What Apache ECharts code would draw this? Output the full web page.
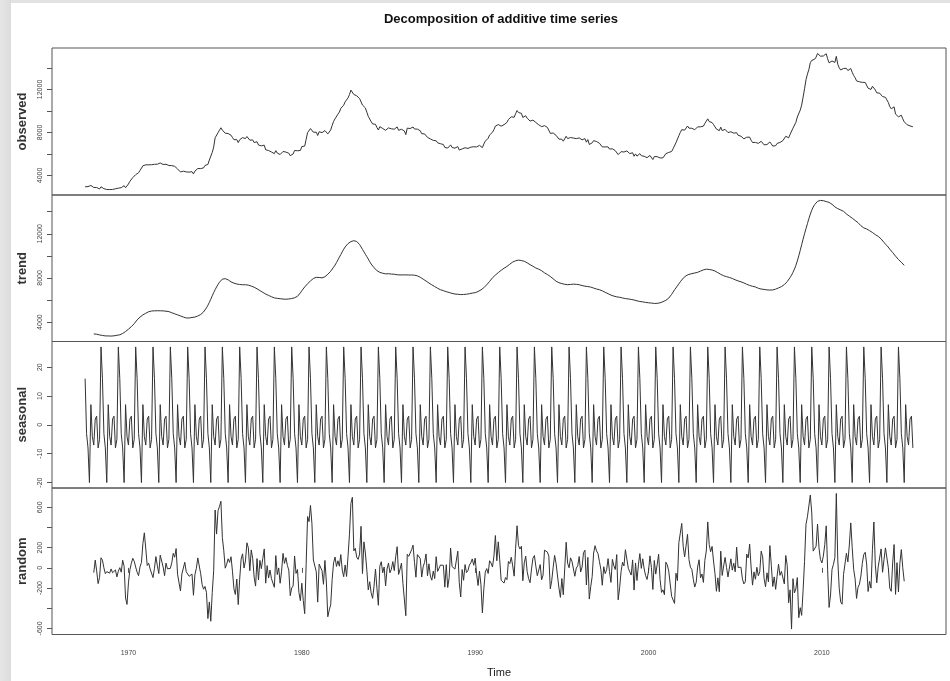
<!DOCTYPE html>
<html>
<head>
<meta charset="utf-8">
<script src="https://cdn.jsdelivr.net/npm/echarts@6/dist/echarts.min.js"></script>
<style>
html,body{margin:0;padding:0;background:#fff;}
#main{width:950px;height:681px;}
</style>
</head>
<body>
<div id="main"></div>
<script>
// monthly series, starts July 1967
var startYear = 1967;
var startMonth = 7;

// observed values, one row per year
var observed = [
  2944, 2945, 2958, 3143, 3066, 3018,
  2878, 3001, 2877, 2709, 2740, 2938, 2883, 2768, 2686, 2689, 2715, 2685,
  2718, 2692, 2712, 2758, 2713, 2816, 2868, 2856, 3040, 3049, 2856, 2884,
  3201, 3453, 3635, 3797, 3919, 4071, 4175, 4256, 4456, 4591, 4898, 5076,
  4986, 4903, 4987, 4959, 4996, 4949, 5035, 5134, 5042, 4954, 5161, 5154,
  5019, 4928, 5038, 4959, 4922, 4923, 4913, 4939, 4849, 4875, 4602, 4543,
  4326, 4452, 4394, 4459, 4329, 4363, 4305, 4305, 4350, 4144, 4396, 4489,
  4644, 4731, 4634, 4618, 4705, 4927, 5063, 5022, 5437, 5523, 6140, 6636,
  7501, 7520, 7978, 8210, 8433, 8220, 8127, 7928, 7923, 7897, 7794, 7744,
  7534, 7326, 7230, 7330, 7053, 7322, 7490, 7518, 7380, 7430, 7620, 7545,
  7280, 7443, 7307, 7059, 6911, 7134, 6829, 6925, 6751, 6763, 6815, 6386,
  6489, 6318, 6337, 6180, 6127, 6028, 6309, 6080, 6125, 5947, 6077, 6228,
  6109, 6173, 6109, 6069, 5840, 5959, 5996, 6320, 6190, 6296, 6238, 6325,
  6683, 6702, 6729, 7358, 7984, 8098, 8363, 8281, 8021, 8088, 8023, 7718,
  8071, 8051, 7982, 7869, 8174, 8098, 7863, 8036, 8230, 8646, 9029, 9267,
  9397, 9705, 9895, 10244, 10335, 10538, 10849, 10881, 11217, 11529, 11938, 12051,
  11534, 11545, 11408, 11268, 11154, 11246, 10548, 10623, 10282, 9887, 9499, 9331,
  9008, 8791, 8746, 8762, 8456, 8226, 8537, 8519, 8367, 8381, 8198, 8358,
  8423, 8321, 8339, 8395, 8302, 8460, 8513, 8196, 8248, 8298, 8128, 8138,
  7795, 8402, 8383, 8364, 8439, 8508, 8319, 8135, 8310, 8243, 8159, 7883,
  7892, 7865, 7862, 7542, 7574, 7398, 7268, 7261, 7102, 7227, 7035, 6936,
  6953, 6929, 6876, 6601, 6779, 6546, 6605, 6843, 6604, 6568, 6537, 6518,
  6682, 6359, 6205, 6468, 6375, 6577, 6495, 6511, 6590, 6630, 6725, 6667,
  6752, 6651, 6598, 6797, 6742, 6590, 6922, 7188, 7368, 7459, 7764, 7901,
  8015, 8265, 8586, 8439, 8736, 8692, 8586, 8666, 8722, 8842, 8931, 9198,
  9283, 9454, 9460, 9415, 9744, 10040, 9850, 9787, 9781, 9398, 9565, 9557,
  9325, 9183, 9056, 9110, 9149, 9121, 8930, 8763, 8714, 8750, 8542, 8477,
  8630, 8583, 8470, 8331, 7915, 7927, 7946, 7933, 7734, 7632, 7375, 7230,
  7375, 7187, 7153, 7645, 7430, 7427, 7527, 7484, 7478, 7328, 7426, 7423,
  7491, 7313, 7318, 7415, 7423, 7095, 7337, 6882, 6979, 7031, 7236, 7253,
  7158, 7102, 7000, 6873, 6655, 6799, 6655, 6608, 6656, 6454, 6308, 6476,
  6368, 6306, 6422, 5941, 6047, 6212, 6259, 6179, 6300, 6280, 6100, 6032,
  5976, 6111, 5783, 6004, 5796, 5951, 6025, 5838, 5915, 5778, 5716, 5653,
  5708, 5858, 5733, 5481, 5758, 5651, 5747, 5853, 5625, 5534, 5639, 5634,
  6023, 6089, 6141, 6271, 6226, 6484, 6583, 7042, 7142, 7694, 8003, 8258,
  8182, 8215, 8304, 8599, 8399, 8393, 8390, 8304, 8251, 8307, 8520, 8640,
  8520, 8618, 8588, 8842, 8957, 9266, 9011, 8896, 8921, 8732, 8576, 8317,
  8370, 8167, 8491, 8170, 8212, 8286, 8136, 7990, 7927, 8061, 7932, 7934,
  7784, 7980, 7737, 7672, 7651, 7524, 7406, 7345, 7553, 7453, 7566, 7279,
  7064, 7184, 7072, 7120, 6980, 7001, 7175, 7091, 6847, 6727, 6872, 6762,
  7116, 6927, 6731, 6850, 6766, 6979, 7149, 7067, 7170, 7237, 7240, 7645,
  7685, 7497, 7822, 7637, 8395, 8575, 8937, 9438, 9494, 10074, 10538, 11286,
  12058, 12898, 13426, 13853, 14499, 14707, 14601, 14814, 15009, 15352, 15219, 15098,
  15046, 15113, 15202, 15325, 14849, 14474, 14512, 14648, 14579, 14516, 15081, 14348,
  14013, 13820, 13737, 13957, 13855, 13962, 13763, 13818, 13948, 13594, 13302, 13093,
  12797, 12813, 12713, 12646, 12660, 12692, 12656, 12471, 12115, 12124, 12005, 12298,
  12471, 11950, 11689, 11760, 11654, 11751, 11335, 11279, 11270, 11136, 10787, 10404,
  10202, 10349, 10380, 9702, 9859, 9460, 9608, 9599, 9262, 8990, 9090, 8717,
  8903, 8610, 8504, 8526
];

// seasonal figure, Jan..Dec
var seasonalFigure = [-7, 2, 3, -8, -5, 27, 16, -3, -8, -20, 7, -4];

var panelNames = ['observed', 'trend', 'seasonal', 'random'];
var xTicks = [1970, 1980, 1990, 2000, 2010];
var levelTicks = [4000, 6000, 8000, 10000, 12000, 14000];
var levelLabels = [4000, 8000, 12000];
var seasonalTicks = [-20, -10, 0, 10, 20];
var randomTicks = [-600, -400, -200, 0, 200, 400, 600];
var randomLabels = [-600, -200, 0, 200, 600];

// decompose: centred 2x12 moving average, then remainder
var n = observed.length;
var trend = [], seasonal = [], random = [], times = [];
for (var i = 0; i < n; i++) {
  times.push(startYear + (startMonth - 1) / 12 + i / 12);
  seasonal.push(seasonalFigure[(startMonth - 1 + i) % 12]);
  if (i < 6 || i > n - 7) {
    trend.push(null);
  } else {
    var s = 0.5 * observed[i - 6] + 0.5 * observed[i + 6];
    for (var k = -5; k <= 5; k++) s += observed[i + k];
    trend.push(s / 12);
  }
  random.push(trend[i] == null ? null : observed[i] - trend[i] - seasonal[i]);
}
var panels = [observed, trend, seasonal, random];

// R style range: data range stretched 4% each side
function rRange(arr) {
  var lo = Infinity, hi = -Infinity;
  arr.forEach(function (v) { if (v != null) { lo = Math.min(lo, v); hi = Math.max(hi, v); } });
  var d = (hi - lo) * 0.04;
  return [lo - d, hi + d];
}
var xr = rRange(times);
function plain(v) { return String(v); }

var font = 'Liberation Sans';
var tops = [48, 195, 341.5, 488];
var heights = [147, 146.5, 146.5, 146.5];
var ticksFor = [levelTicks, levelTicks, seasonalTicks, randomTicks];
var labelsFor = [levelLabels, levelLabels, seasonalTicks, randomLabels];

var grids = [], xAxes = [], yAxes = [], series = [];
for (var p = 0; p < 4; p++) {
  var yr = rRange(panels[p]);
  var last = p == 3;
  grids.push({left: 52, right: 4, top: tops[p], height: heights[p],
    show: true, borderColor: '#555', borderWidth: 1, backgroundColor: 'transparent'});
  xAxes.push({
    type: 'value', gridIndex: p, min: xr[0], max: xr[1], show: last,
    splitLine: {show: false}, axisLine: {show: false},
    axisTick: {show: last, length: 5, customValues: xTicks, lineStyle: {color: '#555'}},
    axisLabel: {show: last, customValues: xTicks, formatter: plain, fontSize: 7, margin: 15,
      color: '#444', fontFamily: font},
    name: last ? 'Time' : '', nameLocation: 'middle', nameGap: 33,
    nameTextStyle: {fontSize: 11, color: '#222', fontFamily: font}
  });
  yAxes.push({
    type: 'value', gridIndex: p, min: yr[0], max: yr[1],
    splitLine: {show: false}, axisLine: {show: false},
    axisTick: {show: true, length: 5, customValues: ticksFor[p], lineStyle: {color: '#555'}},
    axisLabel: {show: true, rotate: 90, customValues: labelsFor[p], formatter: plain, fontSize: 7,
      margin: 8, color: '#444', fontFamily: font},
    name: panelNames[p], nameLocation: 'middle', nameRotate: 90, nameGap: 21,
    nameTextStyle: {fontSize: 13, fontWeight: 'bold', color: '#333', fontFamily: font}
  });
  var pts = [];
  for (var j = 0; j < n; j++) if (panels[p][j] != null) pts.push([times[j], panels[p][j]]);
  series.push({
    type: 'line', xAxisIndex: p, yAxisIndex: p, data: pts,
    showSymbol: false, lineStyle: {color: '#333', width: 1}, silent: true
  });
}

var chart = echarts.init(document.getElementById('main'));
chart.setOption({
  animation: false,
  backgroundColor: '#fff',
  title: {
    text: 'Decomposition of additive time series',
    left: 496, top: 8, textAlign: 'center',
    textStyle: {fontSize: 13, fontWeight: 'bold', color: '#111', fontFamily: font}
  },
  graphic: [
    {type: 'rect', shape: {x: 0, y: 0, width: 950, height: 3}, style: {fill: '#e2e2e2'}, z: -1},
    {type: 'rect', shape: {x: 0, y: 0, width: 11, height: 681},
      style: {fill: new echarts.graphic.LinearGradient(0, 0, 1, 0, [
        {offset: 0, color: '#e6e6e6'}, {offset: 1, color: '#dcdcdc'}])}, z: -1}
  ],
  grid: grids,
  xAxis: xAxes,
  yAxis: yAxes,
  series: series
});
</script>
</body>
</html>
